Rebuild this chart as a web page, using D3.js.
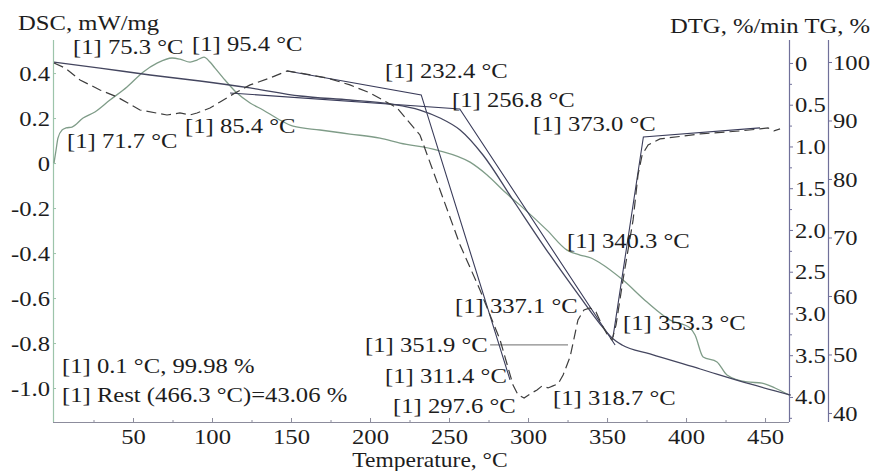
<!DOCTYPE html>
<html><head><meta charset="utf-8">
<script src="https://cdn.jsdelivr.net/npm/d3@7"></script>
<style>
body{margin:0;background:#fff}
svg{display:block}
text{font-family:"Times New Roman","Liberation Serif",Tinos,"Nimbus Roman","DejaVu Serif",serif;fill:#1d1d1d}
</style>
</head><body>
<svg id="chart" width="873" height="471"></svg>
<script>
// ---------------- data ----------------
const dscTemp = [0,1.3,2.5,5.1,7.6,11.4,18.4,25.9,35.4,46.2,56.3,65.2,74.7,79.7,86.1,90.5,94.9,98.7,101.9,108.2,115.8,124.1,132.3,141.8,151.3,168.4,187.3,206.3,219.0,242.4,263.3,274.1,285.4,294.9,312.0,324.7,332.9,339.9,345.6,360.1,375.3,389.9,402.5,405.7,410.8,419.6,425.9,438.6,448.1,456.3,465.2];
const dscValue = [0,0.058,0.111,0.147,0.156,0.16,0.2,0.227,0.28,0.338,0.404,0.444,0.467,0.462,0.449,0.458,0.471,0.449,0.422,0.369,0.311,0.267,0.236,0.196,0.164,0.147,0.129,0.111,0.089,0.058,0.004,-0.053,-0.129,-0.187,-0.298,-0.387,-0.409,-0.422,-0.444,-0.52,-0.618,-0.698,-0.733,-0.764,-0.862,-0.884,-0.942,-0.973,-0.978,-1.0,-1.031];

const tgTemp = [0,29.1,60.8,92.4,124.1,155.7,187.3,212.7,231.6,244.3,257.0,271.5,290.5,313.9,332.9,345.6,353.2,359.5,377.2,409.0,440.5,466.3];
const tgValue = [99.98,98.97,97.78,96.75,95.56,94.19,93.5,92.82,91.79,90.43,88.38,84.1,76.41,67.01,59.83,55.21,52.82,51.62,50.09,47.52,44.96,43.06];

const dtgTemp = [0,7.0,16.5,29.1,39.9,54.4,71.5,79.7,86.1,90.5,98.7,105.1,114.6,124.1,136.7,147.5,155.7,172.8,187.3,200,217.1,231.6,244.3,257,269.6,282.3,290.5,293.7,297.5,301.3,305.7,308.9,312.7,315.8,319.0,322.2,326.6,331.6,335.4,339.2,343.0,346.8,350.6,353.2,355.7,360.1,366.5,369.6,372.2,376.0,383.5,408.9,434.2,446.8,451.9,455.7,459.5];
const dtgValue = [0,0.06,0.204,0.323,0.407,0.563,0.623,0.599,0.623,0.599,0.539,0.467,0.359,0.263,0.18,0.096,0.12,0.18,0.263,0.359,0.539,0.862,1.521,2.18,2.719,3.317,3.856,3.976,4.012,3.964,3.916,3.868,3.892,3.868,3.844,3.737,3.521,3.078,2.958,2.934,2.982,3.138,3.269,3.317,3.138,2.599,1.880,1.341,1.102,0.982,0.91,0.85,0.814,0.79,0.778,0.814,0.79];

// extrapolated onset / end constructions
const onsetDtgTemp = [147.5,232.4,288.6];
const onsetDtgValue = [0.096,0.383,3.796];
const onsetTgTemp = [111.4,256.8,355.1];
const onsetTgValue = [94.7,91.97,51.62];
const endDtgTemp = [353.8,373.0,446.8];
const endDtgValue = [3.281,0.886,0.778];
const markTemp = [276.0,325.3];
const markValue = [3.377,3.377];

// axes
const xTicks = [50,100,150,200,250,300,350,400,450];
const xMinorTicks = [25,75,125,175,225,275,325,375,425];
const dscTicks = [0.4,0.2,0,-0.2,-0.4,-0.6,-0.8,-1.0];
const dscTickLabels = ["0.4","0.2","0","-0.2","-0.4","-0.6","-0.8","-1.0"];
const dtgTicks = [0,0.5,1.0,1.5,2.0,2.5,3.0,3.5,4.0];
const dtgTickLabels = ["0","0.5","1.0","1.5","2.0","2.5","3.0","3.5","4.0"];
const tgTicks = [100,90,80,70,60,50,40];
const tgTickLabels = ["100","90","80","70","60","50","40"];

const annotationTexts = ["[1] 75.3 °C","[1] 95.4 °C","[1] 71.7 °C","[1] 85.4 °C","[1] 232.4 °C","[1] 256.8 °C","[1] 373.0 °C","[1] 340.3 °C","[1] 337.1 °C","[1] 351.9 °C","[1] 311.4 °C","[1] 297.6 °C","[1] 318.7 °C","[1] 353.3 °C","[1] 0.1 °C, 99.98 %","[1] Rest (466.3 °C)=43.06 %"];

// ---------------- layout ----------------
const annotationPos = [[73,54],[192,51],[67,148],[185,133],[385,78],[452,107],[533,131],[567,248],[455,313],[365,352],[385,383],[393,413],[553,405],[623,330],[62,373],[62,402]];

const svg = d3.select("#chart");
const pL = 54, pR = 790.8, pT = 40, pB = 422;
const dtgAxisX = 789, tgAxisX = 828;
const FONT = '"Times New Roman","Liberation Serif",Tinos,"Nimbus Roman","DejaVu Serif",serif';

const x = d3.scaleLinear().domain([0,466.3]).range([pL,pR]);
const yDsc = d3.scaleLinear().domain([0.547,-1.151]).range([pT,pB]);
const yDtg = d3.scaleLinear().domain([-0.275,4.3]).range([pT,pB]);
const yTg = d3.scaleLinear().domain([103.76,38.46]).range([pT,pB]);

const FS = 22;

function styleAxis(g, color){
  g.select(".domain").attr("stroke",color).attr("stroke-width",1.2);
  g.selectAll(".tick line").attr("stroke",color);
  g.selectAll(".tick text").style("font-size",FS+"px").attr("fill","#1d1d1d")
    .style("font-family",FONT);
}

// bottom axis
const gx = svg.append("g").attr("transform",`translate(0,${pB})`)
  .call(d3.axisBottom(x).tickValues(xTicks).tickSizeInner(-4).tickSizeOuter(0).tickPadding(6.5));
gx.select(".domain").attr("d",`M${pL-1},0.5H${dtgAxisX}`);
styleAxis(gx,"#8c8c9c");
svg.append("g").attr("transform",`translate(0,${pB})`)
  .call(d3.axisBottom(x).tickValues(xMinorTicks).tickSizeInner(-2).tickSizeOuter(0).tickFormat(""))
  .call(g=>{g.select(".domain").remove(); g.selectAll("line").attr("stroke","#8c8c9c");});

// left DSC axis
const gl = svg.append("g").attr("transform",`translate(${pL-1},0)`)
  .call(d3.axisLeft(yDsc).tickValues(dscTicks).tickSizeInner(-3).tickSizeOuter(0).tickPadding(3)
    .tickFormat((d,i)=>dscTickLabels[i]));
gl.select(".domain").attr("d",`M0.5,${pT}V${pB}`);
styleAxis(gl,"#9cc4aa");

// DTG axis
const gd = svg.append("g").attr("transform",`translate(${dtgAxisX},0)`)
  .call(d3.axisRight(yDtg).tickValues(dtgTicks).tickSizeInner(4).tickSizeOuter(0).tickPadding(2)
    .tickFormat((d,i)=>dtgTickLabels[i]));
gd.select(".domain").attr("d",`M0.5,${pT}V${pB}`);
styleAxis(gd,"#70709a");
svg.append("g").attr("transform",`translate(${dtgAxisX},0)`)
  .call(d3.axisRight(yDtg).tickValues(dtgTicks.map(d=>d+0.25)).tickSizeInner(3).tickSizeOuter(0).tickFormat(""))
  .call(g=>{g.select(".domain").remove(); g.selectAll("line").attr("stroke","#70709a");});

// TG axis
const gt = svg.append("g").attr("transform",`translate(${tgAxisX},0)`)
  .call(d3.axisRight(yTg).tickValues(tgTicks).tickSizeInner(4).tickSizeOuter(0).tickPadding(1)
    .tickFormat((d,i)=>tgTickLabels[i]));
gt.select(".domain").attr("d",`M0.5,${pT}V${pB}`);
styleAxis(gt,"#70709a");

// ---------------- curves ----------------
const zip = (a,b)=>a.map((t,i)=>[t,b[i]]);
const lineFor = (ys, curve)=>d3.line().x(d=>x(d[0])).y(d=>ys(d[1])).curve(curve||d3.curveLinear);

svg.append("path").datum(zip(dscTemp,dscValue))
  .attr("d",lineFor(yDsc,d3.curveMonotoneX)).attr("fill","none")
  .attr("stroke","#7f9c88").attr("stroke-width",1.3);

svg.append("path").datum(zip(markTemp,markValue))
  .attr("d",lineFor(yDtg)).attr("fill","none").attr("stroke","#8a8a8a").attr("stroke-width",1.2);

svg.append("path").datum(zip(onsetDtgTemp,onsetDtgValue))
  .attr("d",lineFor(yDtg)).attr("fill","none").attr("stroke","#3a3c5a").attr("stroke-width",1.1);
svg.append("path").datum(zip(endDtgTemp,endDtgValue))
  .attr("d",lineFor(yDtg)).attr("fill","none").attr("stroke","#3a3c5a").attr("stroke-width",1.1);
svg.append("path").datum(zip(onsetTgTemp,onsetTgValue))
  .attr("d",lineFor(yTg)).attr("fill","none").attr("stroke","#3a3c5a").attr("stroke-width",1.1);

svg.append("path").datum(zip(tgTemp,tgValue))
  .attr("d",lineFor(yTg,d3.curveMonotoneX)).attr("fill","none")
  .attr("stroke","#44465f").attr("stroke-width",1.3);

svg.append("path").datum(zip(dtgTemp,dtgValue))
  .attr("d",lineFor(yDtg)).attr("fill","none")
  .attr("stroke","#3d3d3d").attr("stroke-width",1.2).attr("stroke-dasharray","10,5");

// ---------------- texts ----------------
const txt = svg.append("g");
annotationTexts.forEach((t,i)=>{
  txt.append("text").attr("x",annotationPos[i][0]).attr("y",annotationPos[i][1])
    .style("font-size",FS+"px").style("font-family",FONT).text(t);
});
svg.append("text").attr("x",18).attr("y",30).style("font-size",FS+"px").style("font-family",FONT).text("DSC, mW/mg");
svg.append("text").attr("x",670).attr("y",33).style("font-size",FS+"px").style("font-family",FONT).text("DTG, %/min TG, %");
svg.append("text").attr("x",430).attr("y",467).attr("text-anchor","middle").style("font-size","21px").style("font-family",FONT).text("Temperature, °C");

// widen glyphs slightly to match the reference's type width
svg.selectAll("text").each(function(){
  const w = this.getComputedTextLength();
  if (w > 0) { this.setAttribute("textLength", (w*1.12).toFixed(1)); this.setAttribute("lengthAdjust","spacingAndGlyphs"); }
});
</script>
</body></html>
